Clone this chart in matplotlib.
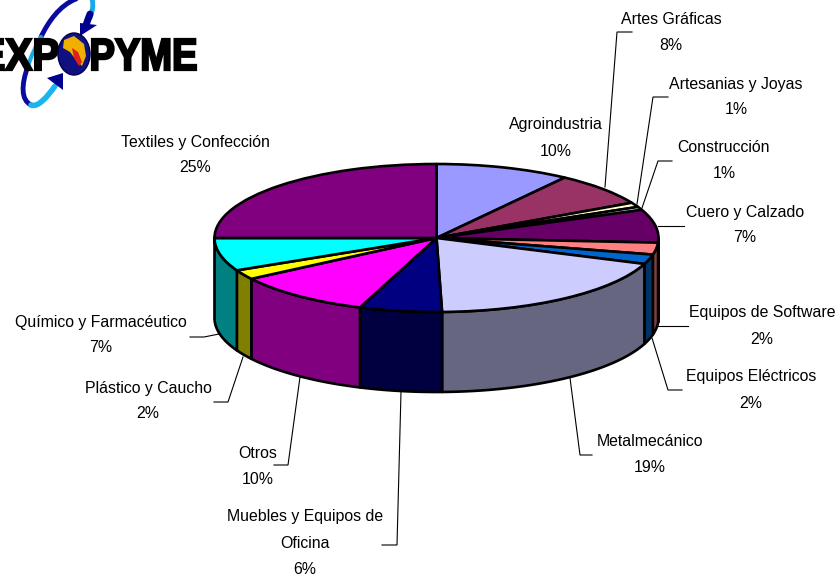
import numpy as np
import matplotlib
matplotlib.use("Agg")
import matplotlib.pyplot as plt
from matplotlib.patches import Ellipse, PathPatch, Polygon
from matplotlib.path import Path
from matplotlib.textpath import TextPath
from matplotlib.font_manager import FontProperties
from matplotlib.transforms import Affine2D

categories = ["Agroindustria", "Artes Gráficas", "Artesanias y Joyas", "Construcción",
              "Cuero y Calzado", "Equipos de Software", "Equipos Eléctricos", "Metalmecánico",
              "Muebles y Equipos de\nOficina", "Otros", "Plástico y Caucho",
              "Químico y Farmacéutico", "Textiles y Confección"]
values = [9.8, 7.3, 1.0, 0.7, 7.2, 2.6, 2.1, 18.9, 6.0, 10.1, 2.1, 7.2, 25.0]
percent_labels = ["10%", "8%", "1%", "1%", "7%", "2%", "2%", "19%", "6%", "10%", "2%", "7%", "25%"]
colors = ["#9999FF", "#993366", "#FFFFCC", "#CCFFFF", "#660066", "#FF8080", "#0066CC",
          "#CCCCFF", "#000080", "#FF00FF", "#FFFF00", "#00FFFF", "#800080"]

W, H = 837, 580
CX, CY, RX, RY, DEPTH = 436.5, 238, 222, 74, 80

fig = plt.figure(figsize=(W / 100, H / 100), dpi=100, facecolor="white")
plt.rcParams["font.family"] = ["Liberation Sans", "DejaVu Sans"]

ax = fig.add_axes([0, 0, 1, 1])
wedge_kw = dict(edgecolor="black", linewidth=1.9, joinstyle="round")
ax.pie(values, colors=colors, startangle=90, counterclock=False, radius=1,
       wedgeprops=wedge_kw)
for w in ax.patches:
    w.set_zorder(3)
ax.set_aspect("auto")
ax.set_xlim(-CX / RX, (W - CX) / RX)
ax.set_ylim((CY - H) / RY, CY / RY)
ax.axis("off")

# side wall of the pie: each slice's front part, at half the brightness of its top
cum = np.concatenate([[0], np.cumsum(values)]) / np.sum(values) * 2 * np.pi
d = DEPTH / RY
for a0, a1, col in zip(cum[:-1], cum[1:], colors):
    lo, hi = max(a0, np.pi / 2), min(a1, 3 * np.pi / 2)
    if hi <= lo:
        continue
    t = np.linspace(lo, hi, 60)
    x, y = np.sin(t), np.cos(t)
    pts = np.column_stack([np.r_[x, x[::-1]], np.r_[y, y[::-1] - d]])
    rgb = np.array(matplotlib.colors.to_rgb(col)) * 0.5
    ax.add_patch(Polygon(pts, closed=True, facecolor=rgb, edgecolor="black",
                         linewidth=1.9, joinstyle="round", zorder=2))

ov = fig.add_axes([0, 0, 1, 1], facecolor="none")
ov.set_xlim(0, W)
ov.set_ylim(H, 0)
ov.axis("off")

# label anchor (centre x, first-line y) per category, same order as categories
label_xy = [(556, 125), (671, 19), (736, 84), (724, 148), (745, 212), (762, 313), (751, 377),
            (650, 442), (305, 517), (258, 453), (148, 388), (101, 322), (195, 142)]
leaders = [None,
           [(605, 187), (617, 32), (632, 32)],
           [(637, 204), (653, 97), (668, 97)],
           [(642, 208), (658, 161), (672, 161)],
           [(658, 226), (684, 226)],
           [(658, 326), (688, 326)],
           [(652, 338), (668, 390), (682, 390)],
           [(570, 378), (580, 455), (592, 455)],
           [(401, 392), (397, 545), (382, 545)],
           [(300, 377), (288, 465), (274, 465)],
           [(243, 357), (228, 402), (214, 402)],
           [(219, 334), (204, 337), (190, 337)],
           None]
LINE = 26
for name, pct, (lx, ly), lead in zip(categories, percent_labels, label_xy, leaders):
    lines = name.split("\n") + [pct]
    for i, s in enumerate(lines):
        ov.text(lx, ly + i * LINE, s, ha="center", va="center", fontsize=11.4,
                color="black", family=["Liberation Sans", "DejaVu Sans"])
    if lead:
        xs, ys = zip(*lead)
        ov.plot(xs, ys, color="black", lw=0.8, solid_joinstyle="miter")

# logo
fp = FontProperties(family="Liberation Sans", weight="bold")


def logo_text(s, x0, x1, y0, y1):
    tp = TextPath((0, 0), s, size=10, prop=fp)
    b = tp.get_extents()
    tr = (Affine2D().translate(-b.x0, -b.y0)
          .scale((x1 - x0) / b.width, -(y1 - y0) / b.height)
          .translate(x0, y1))
    ov.add_patch(PathPatch(tr.transform_path(tp), facecolor="black", edgecolor="black",
                           linewidth=1.6, zorder=5))


logo_text("EXP", -19, 58, 39, 70)
logo_text("PYME", 92, 196, 39, 70)


def curve(pts, color, lw):
    codes = [Path.MOVETO] + [Path.CURVE4] * (len(pts) - 1)
    ov.add_patch(PathPatch(Path(pts, codes), facecolor="none", edgecolor=color, lw=lw,
                           capstyle="round", zorder=4))


curve([(76, -1), (60, 5), (48, 22), (41, 37)], "#0A0AA0", 3.5)
curve([(41, 37), (36, 46), (31, 56), (28, 66)], "#19A8E8", 3)
curve([(28, 66), (21, 85), (21, 100), (31, 105)], "#0A0AA0", 3.5)
curve([(31, 105), (38, 108), (48, 96), (55, 86)], "#19B4F0", 4)
curve([(92, -1), (94, 6), (92, 12), (90, 18)], "#19A8E8", 3.5)
curve([(90, 14), (88, 19), (87, 23), (85, 27)], "#000090", 5)
ov.add_patch(Polygon([(80, 23), (97, 25), (80, 36)], closed=True, fc="#000090", ec="none", zorder=4))
ov.add_patch(Polygon([(47, 78), (63, 73), (63, 90)], closed=True, fc="#000090", ec="none", zorder=4))
ov.add_patch(Ellipse((74, 54), 32, 42, fc="#101080", ec="#000050", lw=1, zorder=6))
ov.add_patch(Polygon([(64, 40), (74, 36), (84, 44), (86, 56), (82, 66), (76, 60), (70, 52), (63, 48)],
                     closed=True, fc="#F0B000", ec="none", zorder=7))
ov.add_patch(Polygon([(72, 48), (78, 52), (82, 62), (79, 66), (74, 58)],
                     closed=True, fc="#E02020", ec="none", zorder=8))

fig.savefig("out.png", dpi=100)
